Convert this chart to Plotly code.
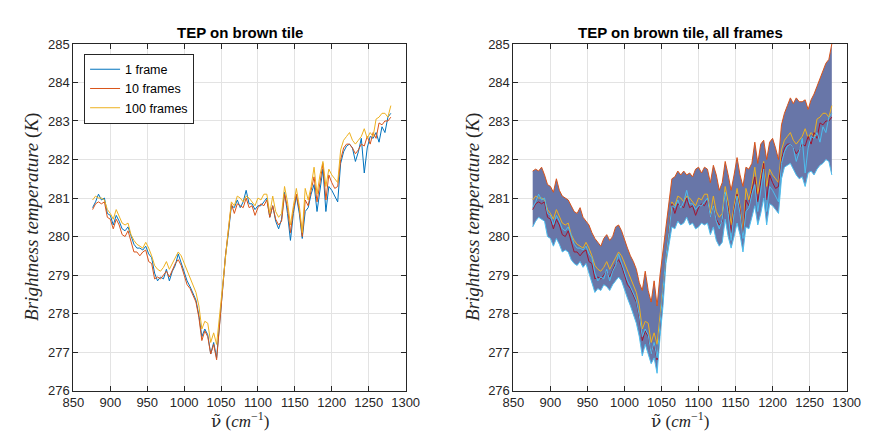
import plotly.graph_objects as go

# ---------------- data ----------------
wavenumber = list(range(876, 1281, 4))  # cm^-1

frame_1 = [
    280.75, 280.9, 281.1, 280.95, 281.0, 280.6, 280.55, 280.3, 280.55, 280.4,
    280.2, 280.15, 280.25, 280.0, 279.8, 279.7, 279.7, 279.65, 279.75, 279.55,
    279.45, 279.05, 278.85, 278.95, 278.9, 279.15, 278.85, 279.1, 279.25, 279.55,
    279.3, 279.1, 278.85, 278.7, 278.5, 278.35, 277.95, 277.4, 277.6, 277.45,
    276.95, 277.25, 276.85, 277.8, 278.6, 279.5, 280.1, 280.8, 280.75, 280.95,
    280.75, 280.9, 281.2, 280.85, 280.85, 280.7, 280.8, 280.8, 280.9, 281.0,
    280.5, 280.8, 280.4, 280.2, 280.45, 281.15, 280.6, 279.9, 280.6, 281.05,
    280.6, 279.95, 280.65, 280.75, 281.1, 281.35, 280.65, 281.2, 281.75, 280.65,
    281.3, 281.2, 281.05, 280.9, 281.9, 282.2, 282.35, 282.4, 282.3, 281.95,
    282.2, 282.55, 281.65, 282.3, 282.6, 282.55, 282.7, 282.45, 282.85, 282.7,
    283.1, 283.2,
]

frames_10 = [
    280.7, 280.85, 280.9, 280.85, 280.9, 280.5, 280.45, 280.2, 280.45, 280.3,
    280.05, 280.0, 280.15, 279.85, 279.6, 279.6, 279.5, 279.6, 279.65, 279.35,
    279.3, 278.9, 278.95, 278.9, 279.0, 279.1, 278.95, 279.15, 279.3, 279.4,
    279.25, 279.0, 278.75, 278.65, 278.45, 278.3, 277.9, 277.3, 277.55, 277.4,
    276.95, 277.2, 276.8, 277.8, 278.6, 279.5, 280.1, 280.85, 280.6, 280.85,
    280.8, 280.75, 281.0, 280.75, 280.8, 280.55, 280.75, 280.85, 280.8, 280.95,
    280.5, 280.8, 280.45, 280.3, 280.4, 281.1, 280.75, 280.1, 280.7, 281.1,
    280.7, 280.0, 280.95, 280.8, 281.2, 281.55, 280.9, 281.4, 281.9, 280.95,
    281.6, 281.4, 281.25, 281.3, 282.0, 282.3, 282.4, 282.4, 282.3, 282.15,
    282.25, 282.4, 282.35, 282.6, 282.4, 282.7, 282.55, 282.95, 282.9, 283.0,
    283.0, 283.1,
]

frames_100 = [
    280.95, 281.05, 281.0, 281.0, 280.95, 280.7, 280.6, 280.45, 280.7, 280.5,
    280.35, 280.3, 280.35, 280.05, 279.9, 279.8, 279.75, 279.7, 279.85, 279.7,
    279.5, 279.25, 279.15, 279.1, 279.2, 279.35, 279.15, 279.3, 279.45, 279.6,
    279.5, 279.3, 279.1, 278.95, 278.75, 278.55, 278.2, 277.6, 277.8, 277.75,
    277.25, 277.5, 277.2, 278.0, 278.7, 279.6, 280.2, 280.9, 280.8, 281.05,
    281.0, 280.9, 281.05, 281.0, 280.9, 280.8, 281.0, 280.95, 281.1, 281.1,
    280.6, 281.05, 280.65, 280.5, 280.6, 281.3, 280.9, 280.3, 280.8, 281.25,
    280.8, 280.1, 281.25, 280.95, 281.3, 281.8, 281.1, 281.6, 281.95, 281.3,
    281.75, 281.6, 281.5, 281.4, 282.25, 282.5, 282.6, 282.7, 282.5, 282.4,
    282.5, 282.6, 282.8, 282.55, 282.7, 282.6, 283.05, 283.1, 283.2, 283.2,
    283.1, 283.4,
]

# upper / lower edge of the band of all frames (right panel)
all_upper = [
    281.7, 281.75, 281.7, 281.8, 281.6, 281.35, 281.3, 281.15, 281.5, 281.2,
    281.05, 281.0, 280.95, 280.8, 280.65, 280.6, 280.75, 280.5, 280.4, 280.3,
    280.1, 279.95, 279.85, 279.75, 279.95, 280.05, 279.9, 280.0, 280.25, 280.3,
    280.15, 279.9, 279.7, 279.5, 279.35, 279.15, 278.8, 278.6, 279.1, 278.6,
    278.3, 278.85, 278.2, 279.0, 279.6, 280.3, 280.9, 281.5, 281.55, 281.7,
    281.6, 281.7, 281.6, 281.65, 281.55, 281.75, 281.8, 281.65, 281.8, 281.75,
    281.4, 281.85, 281.6, 281.2, 281.4, 281.95, 281.6, 281.2, 281.6, 282.05,
    281.6, 281.3, 281.8, 281.75, 281.9, 282.45, 281.9, 282.4, 282.5, 282.0,
    282.45, 282.55, 282.3, 282.0, 282.9, 283.2, 283.4, 283.6, 283.45, 283.6,
    283.5, 283.5, 283.55, 283.3, 283.55, 283.7, 283.9, 284.1, 284.3, 284.5,
    284.6, 285.0,
]

all_lower = [
    280.25, 280.4, 280.5, 280.45, 280.4, 280.0, 279.95, 279.75, 279.95, 279.8,
    279.6, 279.65, 279.6, 279.4, 279.3, 279.25, 279.35, 279.2, 279.3, 279.05,
    278.8, 278.55, 278.65, 278.6, 278.75, 278.7, 278.6, 278.75, 278.85, 278.95,
    278.85, 278.6, 278.4, 278.2, 278.0, 277.75, 277.4, 276.9, 277.2, 276.95,
    276.7, 276.85, 276.45, 277.4, 278.2, 279.3, 279.8, 280.25, 280.2, 280.4,
    280.3, 280.35, 280.5, 280.3, 280.35, 280.2, 280.25, 280.35, 280.3, 280.35,
    280.05, 280.25, 279.9, 279.75, 279.85, 280.45, 280.0, 279.7, 280.0, 280.35,
    280.05, 279.6, 280.25, 280.2, 280.5, 280.8, 280.3, 280.6, 281.0, 280.3,
    280.85, 280.8, 280.7, 280.6, 281.5, 281.8, 281.85, 281.9, 281.75, 281.6,
    281.5, 281.55, 281.3, 281.65, 281.7, 281.6, 281.75, 281.85, 281.9, 282.0,
    281.95, 281.6,
]

for arr in (frame_1, frames_10, frames_100, all_upper, all_lower):
    assert len(arr) == len(wavenumber), len(arr)

y_ticks = list(range(276, 286))
x_ticks = list(range(850, 1301, 50))

# ---------------- figure ----------------
C = ['#0072BD', '#D95319', '#EDB120', '#7E2F8E', '#77AC30', '#4DBEEE', '#A2142F']
TXT = '#262626'
fig = go.Figure()

left = [(frame_1, '1 frame', C[0]), (frames_10, '10 frames', C[1]), (frames_100, '100 frames', C[2])]
for ys, nm, col in left:
    fig.add_trace(go.Scatter(x=wavenumber, y=ys, mode='lines', name=nm,
                             line=dict(color=col, width=1), xaxis='x', yaxis='y'))

# right panel: band of all frames
fig.add_trace(go.Scatter(x=wavenumber, y=all_lower, mode='lines', showlegend=False,
                         line=dict(color=C[5], width=1), xaxis='x2', yaxis='y2'))
fig.add_trace(go.Scatter(x=wavenumber, y=all_upper, mode='lines', showlegend=False,
                         fill='tonexty', fillcolor='rgb(104,118,168)',
                         line=dict(color=C[1], width=1), xaxis='x2', yaxis='y2'))
for ys, col in [(frames_100, C[2]), (frames_10, C[6]), (frame_1, C[5])]:
    fig.add_trace(go.Scatter(x=wavenumber, y=ys, mode='lines', showlegend=False,
                             line=dict(color=col, width=1), xaxis='x2', yaxis='y2'))

W, H = 874, 436
def px_x(p): return p / W
def px_y(p): return 1 - p / H

axis_common = dict(showline=True, linecolor=TXT, linewidth=1, mirror='ticks',
                   ticks='inside', ticklen=5, tickcolor=TXT, showgrid=True,
                   gridcolor='#e3e3e3', gridwidth=1, zeroline=False,
                   tickfont=dict(family='Liberation Sans, Arial', size=13, color=TXT))

ydom = [px_y(389), px_y(30)]
fig.update_layout(
    width=W, height=H, margin=dict(l=0, r=0, t=0, b=0),
    paper_bgcolor='white', plot_bgcolor='white',
    xaxis=dict(domain=[px_x(56), px_x(398)], range=[850, 1300], tickvals=x_ticks, anchor='y', **axis_common),
    yaxis=dict(domain=ydom, range=[276, 285], tickvals=y_ticks, anchor='x', **axis_common),
    xaxis2=dict(domain=[px_x(509), px_x(852)], range=[850, 1300], tickvals=x_ticks, anchor='y2', **axis_common),
    yaxis2=dict(domain=ydom, range=[276, 285], tickvals=y_ticks, anchor='x2', **axis_common),
    legend=dict(x=px_x(67), y=px_y(40), xanchor='left', yanchor='top',
                bgcolor='white', bordercolor=TXT, borderwidth=1, traceorder='normal',
                font=dict(family='Liberation Sans, Arial', size=12.5, color='black'),
                tracegroupgap=0, itemwidth=30),
    showlegend=True,
)

ann = []
for cx, title in [((56 + 398) / 2, 'TEP on brown tile'), ((509 + 852) / 2, 'TEP on brown tile, all frames')]:
    ann.append(dict(x=px_x(cx), y=px_y(18), xref='paper', yref='paper', showarrow=False,
                    text='<b>' + title + '</b>', xanchor='center', yanchor='middle',
                    font=dict(family='Liberation Sans, Arial', size=15, color='black')))
    ann.append(dict(x=px_x(cx), y=px_y(419), xref='paper', yref='paper', showarrow=False,
                    text='<span style="font-family:DejaVu Serif">\u03bd\u0303</span> (<i>cm</i><sup>\u22121</sup>)',
                    xanchor='center', yanchor='middle',
                    font=dict(family='Liberation Serif, DejaVu Serif', size=17, color=TXT)))
for lx in (14, 468):
    ann.append(dict(x=px_x(lx), y=px_y(209.5), xref='paper', yref='paper', showarrow=False,
                    text='<i>Brightness temperature</i> (<i>K</i>)', textangle=-90,
                    xanchor='center', yanchor='middle',
                    font=dict(family='Liberation Serif, DejaVu Serif', size=19, color=TXT)))
fig.update_layout(annotations=ann)

fig.write_html('out.html')
